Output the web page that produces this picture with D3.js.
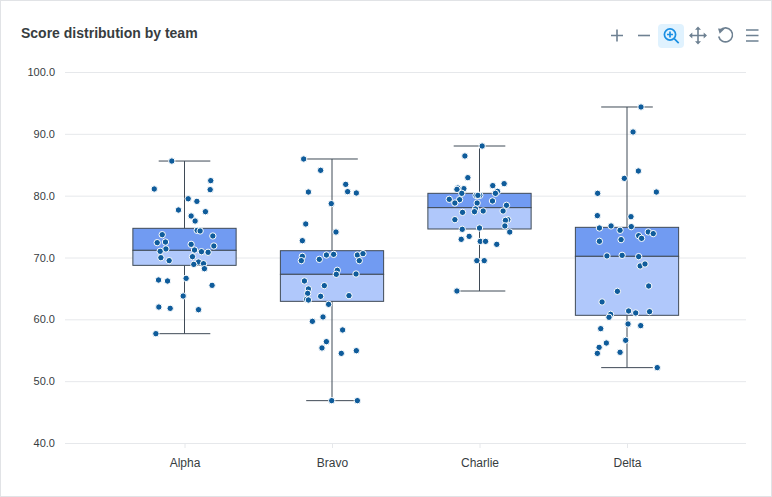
<!DOCTYPE html>
<html>
<head>
<meta charset="utf-8">
<script src="https://cdn.jsdelivr.net/npm/d3@7"></script>
<style>
  html, body { margin: 0; padding: 0; background: #fff; }
  svg { display: block; font-family: "Liberation Sans", Arial, sans-serif; }
</style>
</head>
<body>
<svg id="chart" width="772" height="497"></svg>
<script>
const categories = ["Alpha", "Bravo", "Charlie", "Delta"];
const whiskerLow = [57.68, 46.85, 64.58, 52.19];
const quartile1 = [68.73, 62.91, 74.61, 60.65];
const medians = [71.16, 67.28, 78.06, 70.19];
const quartile3 = [74.72, 71.1, 80.38, 74.88];
const whiskerHigh = [85.6, 85.93, 88.03, 94.34];
const yTicks = [40, 50, 60, 70, 80, 90, 100];

// Observed scores per team, with the horizontal jitter of each dot in category units.
const alphaScores = [85.6,81.08,82.43,80.97,79.5,79.08,77.68,77.41,76.71,75.9,74.39,74.29,73.69,73.48,72.4,72.5,72.13,71.86,71.38,71.0,71.21,70.94,70.84,69.97,70.13,69.49,69.27,68.89,69.0,68.19,66.36,66.2,66.63,65.5,63.77,61.99,61.78,61.56,57.68];
const alphaJitter = [-0.086,-0.205,0.178,0.174,0.025,0.084,-0.041,0.142,0.045,0.072,0.086,0.106,-0.151,0.192,-0.185,-0.129,0.045,0.199,-0.126,-0.165,0.068,0.115,0.16,-0.16,0.054,-0.104,0.095,0.063,0.129,0.135,-0.176,-0.115,0.011,0.187,-0.009,-0.174,-0.097,0.095,-0.194];

const bravoScores = [85.93,84.1,81.83,80.65,80.43,80.59,78.71,75.42,74.12,72.72,70.19,69.49,69.7,70.4,70.51,70.4,70.62,69.49,67.93,67.28,67.33,66.2,65.45,64.91,64.2,63.72,63.83,63.24,63.13,62.43,60.38,59.68,58.28,56.39,55.37,54.93,54.5,46.85,46.85];
const bravoJitter = [-0.192,-0.077,0.093,0.106,0.165,-0.16,-0.005,-0.178,0.027,-0.201,-0.201,-0.208,-0.086,-0.038,0.011,0.172,0.21,0.185,0.036,0.029,0.163,-0.187,-0.052,-0.16,-0.165,-0.077,0.115,-0.172,-0.16,-0.023,-0.061,-0.133,0.072,-0.038,-0.068,0.165,0.063,-0.002,0.172];

const charlieScores = [88.03,86.42,82.91,81.62,81.94,81.13,81.24,81.02,80.38,80.05,80.05,80.05,80.7,80.38,79.41,79.35,78.81,78.81,79.14,78.44,77.3,77.84,77.41,77.52,77.52,76.12,76.12,76.01,75.1,74.12,74.56,74.77,72.94,73.42,72.61,72.61,72.13,69.49,69.49,64.58];
const charlieJitter = [0.018,-0.099,-0.079,0.09,0.167,-0.106,-0.147,-0.153,-0.12,-0.023,0.002,-0.011,0.122,0.108,-0.205,-0.135,-0.167,-0.016,0.088,0.183,-0.115,-0.027,-0.034,0.025,0.16,-0.167,0.192,0.176,0.172,0.205,-0.117,0,-0.124,-0.07,0.005,0.041,0.117,-0.018,0.032,-0.153];

const deltaScores = [94.34,90.3,83.99,82.8,80.38,80.59,76.77,76.6,74.77,75.1,74.4,74.99,74.13,73.86,73.53,73.1,72.62,72.89,70.25,70.35,70.14,68.63,68.95,65.39,64.53,62.81,60.81,60.33,61.35,61.03,61.24,59.25,58.98,58.49,56.61,56.17,55.47,54.5,54.67,52.19];
const deltaJitter = [0.095,0.041,0.077,-0.018,-0.199,0.199,-0.201,0.027,-0.187,-0.108,-0.047,0.029,0.144,0.178,0.079,0.099,-0.187,-0.04,-0.136,-0.033,0.079,0.089,0.122,0.147,-0.065,-0.169,-0.111,-0.122,0.011,0.059,0.153,0.007,0.093,-0.178,-0.009,-0.14,-0.189,-0.201,-0.047,0.205];

const teamScores = [alphaScores, bravoScores, charlieScores, deltaScores];
const teamJitter = [alphaJitter, bravoJitter, charlieJitter, deltaJitter];

const BOX_WIDTH = 0.7, CAP_WIDTH = 0.35;
const INK = "#3f4a56", UPPER = "#719bf2", LOWER = "#b0c8fb", DOT = "#0f5c9b";

const svg = d3.select("#chart");

// Card outline
svg.append("rect").attr("x", 0.5).attr("y", 0.5).attr("width", 771).attr("height", 496)
  .attr("fill", "#fff").attr("stroke", "#e1e3e6");

svg.append("text").attr("x", 21).attr("y", 38)
  .attr("font-size", 14).attr("font-weight", 700).attr("fill", "#373d3f")
  .text("Score distribution by team");

const x = d3.scaleLinear().domain([-0.5, 3.5]).range([110.75, 700.75]);
const y = d3.scaleLinear().domain([40, 100]).range([443, 72]);

// Y axis: its tick lines extend across the plot as gridlines
const yAxis = svg.append("g").attr("transform", "translate(65,0)")
  .call(d3.axisLeft(y).tickValues(yTicks).tickFormat(d3.format(".1f")).tickSize(-681).tickPadding(10));
yAxis.select(".domain").remove();
yAxis.selectAll(".tick line").attr("stroke", "#e6e8eb");
yAxis.selectAll(".tick text").attr("fill", "#373d3f").attr("font-size", 11)
  .attr("font-family", "inherit");

const xAxis = svg.append("g").attr("transform", "translate(0,443)")
  .call(d3.axisBottom(x).tickValues(d3.range(categories.length))
    .tickFormat(i => categories[i]).tickSize(5).tickPadding(10));
xAxis.select(".domain").remove();
xAxis.selectAll(".tick line").attr("stroke", "#e6e8eb");
xAxis.selectAll(".tick text").attr("fill", "#373d3f").attr("font-size", 12)
  .attr("font-family", "inherit");

// Box-and-whisker marks
const boxes = svg.append("g").selectAll("g").data(categories).join("g");
const seg = (g, x1, x2, y1, y2) => g.append("line")
  .attr("x1", x1).attr("x2", x2).attr("y1", y1).attr("y2", y2)
  .attr("stroke", INK).attr("stroke-width", 1);

boxes.each(function (_, i) {
  const g = d3.select(this);
  seg(g, x(i), x(i), y(whiskerHigh[i]), y(quartile3[i]));
  seg(g, x(i), x(i), y(quartile1[i]), y(whiskerLow[i]));
  seg(g, x(i - CAP_WIDTH / 2), x(i + CAP_WIDTH / 2), y(whiskerHigh[i]), y(whiskerHigh[i]));
  seg(g, x(i - CAP_WIDTH / 2), x(i + CAP_WIDTH / 2), y(whiskerLow[i]), y(whiskerLow[i]));
  const left = x(i - BOX_WIDTH / 2), w = x(BOX_WIDTH) - x(0);
  g.append("rect").attr("x", left).attr("width", w)
    .attr("y", y(quartile3[i])).attr("height", y(medians[i]) - y(quartile3[i]))
    .attr("fill", UPPER).attr("stroke", INK).attr("stroke-width", 1);
  g.append("rect").attr("x", left).attr("width", w)
    .attr("y", y(medians[i])).attr("height", y(quartile1[i]) - y(medians[i]))
    .attr("fill", LOWER).attr("stroke", INK).attr("stroke-width", 1);
});

// Jittered observations on top of the boxes
const dots = teamScores.flatMap((scores, i) =>
  scores.map((score, k) => ({ pos: i + teamJitter[i][k], score })));
svg.append("g").selectAll("circle").data(dots).join("circle")
  .attr("cx", d => x(d.pos)).attr("cy", d => y(d.score)).attr("r", 3.2)
  .attr("fill", DOT).attr("stroke", "#fff").attr("stroke-width", 1);

// Toolbar
const toolbar = svg.append("g").attr("fill", "none").attr("stroke", "#6e8192")
  .attr("stroke-width", 1.6);
toolbar.append("rect").attr("x", 658).attr("y", 24).attr("width", 26).attr("height", 24)
  .attr("rx", 4).attr("fill", "#e0f2fe").attr("stroke", "none");
toolbar.append("path").attr("d", "M611 35.5h12M617 29.5v12");
toolbar.append("path").attr("d", "M638 35.5h12");
toolbar.append("g").attr("stroke", "#1a8fe3").attr("stroke-width", 1.7).call(g => {
  g.append("circle").attr("cx", 670).attr("cy", 34.5).attr("r", 5.6);
  g.append("path").attr("d", "M674.2 38.7l4.5 4.5M667 34.5h6M670 31.5v6");
});
toolbar.append("path").attr("d", "M690.5 35.5h15M698 28v15");
toolbar.append("path").attr("fill", "#6e8192").attr("stroke", "none")
  .attr("d", "M698 26.5l3 3.3h-6zM698 44.5l3-3.3h-6zM689 35.5l3.3-3v6zM707 35.5l-3.3-3v6z");
toolbar.append("path").attr("d", "M720.3 30.2a7 7 0 1 1 -1.6 6.3");
toolbar.append("path").attr("fill", "#6e8192").attr("stroke", "none")
  .attr("d", "M718 28.5l6.5 0.6-4.8 4.6z");
toolbar.append("path").attr("d", "M746 30h12.5M746 35.5h12.5M746 41h12.5");
</script>
</body>
</html>
